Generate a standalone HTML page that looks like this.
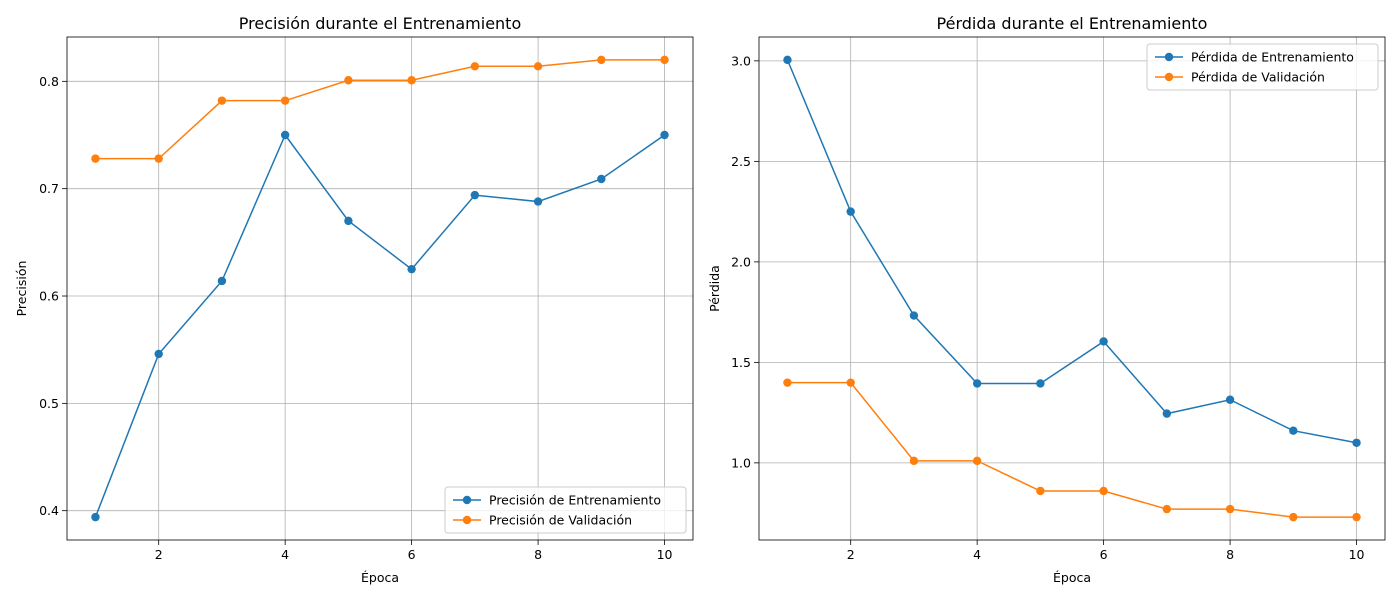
<!DOCTYPE html>
<html><head><meta charset="utf-8"><style>
body{margin:0;background:#fff;}
svg text{font-family:"DejaVu Sans","Liberation Sans",sans-serif;fill:#000;}
</style></head><body>
<svg id="fig" width="1400" height="600" xmlns="http://www.w3.org/2000/svg"></svg>
<script>
const epochs = [1,2,3,4,5,6,7,8,9,10];
const trainAcc = [0.394,0.546,0.614,0.750,0.670,0.625,0.694,0.688,0.709,0.750];
const valAcc = [0.728,0.728,0.782,0.782,0.801,0.801,0.814,0.814,0.820,0.820];
const trainLoss = [3.005,2.250,1.733,1.395,1.395,1.604,1.245,1.314,1.160,1.100];
const valLoss = [1.399,1.399,1.010,1.010,0.860,0.860,0.770,0.770,0.730,0.730];
const xTicks = [2,4,6,8,10];
const accTicks = [0.4,0.5,0.6,0.7,0.8];
const lossTicks = [1.0,1.5,2.0,2.5,3.0];
const accLegend = ["Precisión de Entrenamiento","Precisión de Validación"];
const lossLegend = ["Pérdida de Entrenamiento","Pérdida de Validación"];

const NS="http://www.w3.org/2000/svg";
const svg=document.getElementById('fig');
function mk(tag,attrs,parent){const e=document.createElementNS(NS,tag);for(const k in attrs)e.setAttribute(k,attrs[k]);(parent||svg).appendChild(e);return e;}
const FS=12.5;
function panel(cfg){
  const g=mk('g',{});
  
  
  const L=cfg.x0,R=cfg.x1,T=37,B=540;
  const lo=Math.min(...cfg.s1,...cfg.s2),hi=Math.max(...cfg.s1,...cfg.s2),m=(hi-lo)*0.05;
  const ymin=lo-m,ymax=hi+m;
  const xs=v=>L+(v-0.55)/9.9*(R-L);
  const ys=v=>B-(v-ymin)/(ymax-ymin)*(B-T);
  xTicks.forEach(t=>{
    const gl=mk('line',{x1:xs(t),x2:xs(t),y1:T,y2:B,stroke:'#b0b0b0','stroke-width':0.8},g);
    
    mk('line',{x1:xs(t),x2:xs(t),y1:B,y2:B+5,stroke:'#000','stroke-width':0.8},g);
    const tx=mk('text',{x:xs(t),y:B+19,'text-anchor':'middle','font-size':FS},g);tx.textContent=t;
    
  });
  cfg.ticks.forEach(t=>{
    const gl=mk('line',{x1:L,x2:R,y1:ys(t),y2:ys(t),stroke:'#b0b0b0','stroke-width':0.8},g);
    
    mk('line',{x1:L-5,x2:L,y1:ys(t),y2:ys(t),stroke:'#000','stroke-width':0.8},g);
    const tx=mk('text',{x:L-8,y:ys(t)+4.5,'text-anchor':'end','font-size':FS},g);tx.textContent=t.toFixed(1);
    
  });
  [[cfg.s1,'#1f77b4','train'],[cfg.s2,'#ff7f0e','val']].forEach(([s,c,n])=>{
    const pl=mk('polyline',{points:s.map((v,i)=>xs(epochs[i])+','+ys(v)).join(' '),fill:'none',stroke:c,'stroke-width':1.5},g);
    
    s.forEach((v,i)=>{const p=mk('circle',{cx:xs(epochs[i]),cy:ys(v),r:4.2,fill:c},g);
      });
  });
  mk('rect',{x:L,y:T,width:R-L,height:B-T,fill:'none',stroke:'#000','stroke-width':0.8},g);
  const ti=mk('text',{x:(L+R)/2,y:29,'text-anchor':'middle','font-size':16},g);ti.textContent=cfg.title;
  
  const xl=mk('text',{x:(L+R)/2,y:582,'text-anchor':'middle','font-size':FS},g);xl.textContent='Época';
  
  const yx=L-46+(cfg.ylOff||0);
  const yl=mk('text',{x:yx,y:(T+B)/2,'text-anchor':'middle','font-size':FS,transform:`rotate(-90 ${yx} ${(T+B)/2})`},g);yl.textContent=cfg.ylabel;
  
  const lg=mk('g',{},g);
  const [lx,ly,lw]=cfg.leg;
  mk('rect',{x:lx,y:ly,width:lw,height:46,rx:3,fill:'#fff','fill-opacity':0.8,stroke:'#ccc'},lg);
  cfg.legText.forEach((t,i)=>{
    const c=i?'#ff7f0e':'#1f77b4',yy=ly+13+i*20;
    mk('line',{x1:lx+8,x2:lx+36,y1:yy,y2:yy,stroke:c,'stroke-width':1.5},lg);
    mk('circle',{cx:lx+22,cy:yy,r:4.2,fill:c},lg);
    const e=mk('text',{x:lx+44,y:yy+4.5,'font-size':FS},lg);e.textContent=t;
    
  });
}
panel({name:'accuracy-chart',x0:67,x1:693,s1:trainAcc,s2:valAcc,ticks:accTicks,title:'Precisión durante el Entrenamiento',ylabel:'Precisión',leg:[445,487,241],legText:accLegend,ylOff:5});
panel({name:'loss-chart',x0:759,x1:1385,s1:trainLoss,s2:valLoss,ticks:lossTicks,title:'Pérdida durante el Entrenamiento',ylabel:'Pérdida',leg:[1147,44,231],legText:lossLegend,ylOff:6});
</script>
</body></html>
